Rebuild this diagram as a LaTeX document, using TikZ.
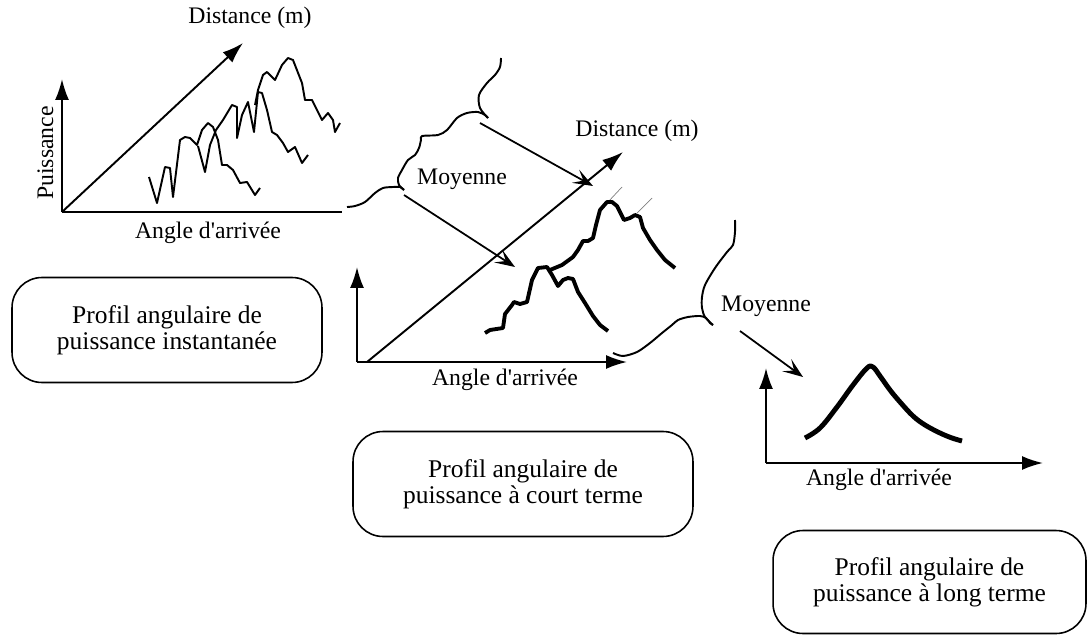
\documentclass[tikz,border=0pt]{standalone}
\usepackage{fontspec}
\setmainfont{Liberation Serif}
\usetikzlibrary{arrows.meta}
\tikzstyle{etiq}=[anchor=base,inner sep=0pt,font=\fontsize{13.5}{15.5}\selectfont]
\tikzstyle{profil}=[draw,line width=0.9pt,rounded corners=0.6cm,align=center,minimum height=2.1cm,font=\fontsize{14.5}{15}\selectfont]
\tikzstyle{axe}=[line width=1.1pt,-{Latex[length=0.42cm,width=0.28cm]}]
\tikzstyle{fleche}=[line width=1pt,-{Stealth[length=0.4cm,width=0.3cm,inset=0.18cm]}]
\tikzstyle{bruit}=[line width=1.1pt,line join=round]
\tikzstyle{accolade}=[line width=1.1pt,line join=round]
\newcommand{\arrivee}{Angle d\textquotesingle arrivée}

\begin{document}
\begin{tikzpicture}[x=0.02cm,y=-0.02cm]
    \useasboundingbox (0,0) rectangle (1088,635);

    % profil instantane
    \coordinate (o1) at (62,212);
    \coordinate (p1) at (62,79);
    \coordinate (a1) at (342,212);
    \coordinate (d1) at (243,43);
    \draw[axe] (o1) -- (p1);
    \draw[line width=1.1pt] (o1) -- (a1);
    \draw[axe] (o1) -- (d1);
    \node[etiq] (dist1) at (250,24) {Distance (m)};
    \node[etiq,rotate=90] (puis) at (53,153) {Puissance};
    \node[etiq] (angle1) at (208,238) {\arrivee};
    \draw[bruit] plot coordinates {(149,177) (157,203) (165,167) (170,168) (173,197) (180,140) (185,137)
        (190,138) (197,145) (202,130) (208,123) (213,127) (218,140) (222,165) (227,165) (233,170)
        (240,183) (247,182) (255,195) (260,188)};
    \draw[bruit] plot coordinates {(198,146) (205,172) (210,145) (216,130) (223,120) (232,105) (237,107)
        (237,138) (242,115) (248,102) (254,132) (258,92) (262,93) (267,110) (272,132) (277,135)
        (283,143) (288,152) (295,147) (302,163) (308,155)};
    \draw[bruit] plot coordinates {(255,105) (258,90) (263,75) (267,72) (275,80) (282,65) (288,58) (293,60)
        (302,83) (305,100) (312,100) (317,110) (322,120) (328,113) (333,120) (335,132) (340,123)};

    % premiere moyenne
    \draw[accolade] plot[smooth,tension=0.5] coordinates {(347,207) (355,206) (365,202) (375,193) (383,188)
        (393,187) (400,187) (404,190)};
    \draw[accolade] plot[smooth,tension=0.5] coordinates {(404,190) (399,185) (398,178) (402,170) (408,160)
        (415,155) (419,148) (421,140) (422,136) (438,135) (447,130) (457,118) (467,113) (478,112)
        (485,115) (488,118)};
    \draw[accolade] plot[smooth,tension=0.5] coordinates {(488,118) (480,108) (479,95) (487,83) (495,75)
        (500,67) (501,58)};
    \node[etiq] (moy1) at (462,184) {Moyenne};
    \coordinate (m1a) at (480,123);
    \coordinate (m1b) at (593,186);
    \coordinate (m1c) at (404,195);
    \coordinate (m1d) at (515,267);
    \draw[fleche] (m1a) -- (m1b);
    \draw[fleche] (m1c) -- (m1d);

    % profil a court terme
    \coordinate (o2) at (357,362);
    \coordinate (p2) at (357,267);
    \coordinate (a2) at (627,362);
    \coordinate (d2) at (623,152);
    \coordinate (od2) at (367,362);
    \draw[axe] (o2) -- (p2);
    \draw[axe] (o2) -- (a2);
    \draw[axe] (od2) -- (d2);
    \node[etiq] (dist2) at (637,136) {Distance (m)};
    \node[etiq] (angle2) at (505,385) {\arrivee};
    \draw[gray,line width=0.4pt] (608,202) -- (622,187);
    \draw[gray,line width=0.4pt] (637,213) -- (652,198);
    \draw[bruit,line width=2.2pt] plot coordinates {(485,333) (490,330) (503,328) (505,314) (512,305) (514,302)
        (520,304) (527,302) (532,280) (538,268) (547,267) (552,275) (558,286) (563,280) (568,278)
        (573,279) (578,292) (585,303) (593,316) (600,325) (608,331)};
    \draw[bruit,line width=2.2pt] plot coordinates {(550,270) (562,265) (573,257) (578,250) (583,241) (588,241)
        (593,238) (596,225) (600,210) (607,202) (612,202) (617,206) (620,212) (624,220) (630,218)
        (635,215) (640,217) (643,228) (650,240) (657,250) (665,260) (675,268)};

    % deuxieme moyenne
    \draw[accolade] plot[smooth,tension=0.5] coordinates {(613,353) (623,356) (637,352) (650,343) (662,333)
        (672,325) (678,320) (688,317) (700,316) (706,318) (710,323) (713,325)};
    \draw[accolade] plot[smooth,tension=0.5] coordinates {(713,325) (705,317) (702,308) (702,297) (705,285)
        (715,268) (727,252) (733,245) (735,232) (735,220)};
    \node[etiq] (moy2) at (766,311) {Moyenne};
    \coordinate (m2a) at (740,331);
    \coordinate (m2b) at (803,377);
    \draw[fleche] (m2a) -- (m2b);

    % profil a long terme
    \coordinate (o3) at (766,463);
    \coordinate (p3) at (766,368);
    \coordinate (a3) at (1043,463);
    \draw[axe] (o3) -- (p3);
    \draw[axe] (o3) -- (a3);
    \node[etiq] (angle3) at (879,485) {\arrivee};
    \draw[bruit,line width=2.8pt] plot[smooth,tension=0.6] coordinates {(805,438) (820,428) (837,407)
        (853,385) (867,368) (873,367) (880,376) (890,390) (900,402) (913,416) (925,425) (940,433)
        (952,438) (962,441)};

    % legendes
    \node[profil,minimum width=6.2cm] (inst) at (167,330) {Profil angulaire de\\puissance instantanée};
    \node[profil,minimum width=6.8cm] (court) at (523,484) {Profil angulaire de\\puissance à court terme};
    \node[profil,minimum width=6.26cm,minimum height=2.06cm] (long) at (929.5,582) {Profil angulaire de\\puissance à long terme};
\end{tikzpicture}
\end{document}
